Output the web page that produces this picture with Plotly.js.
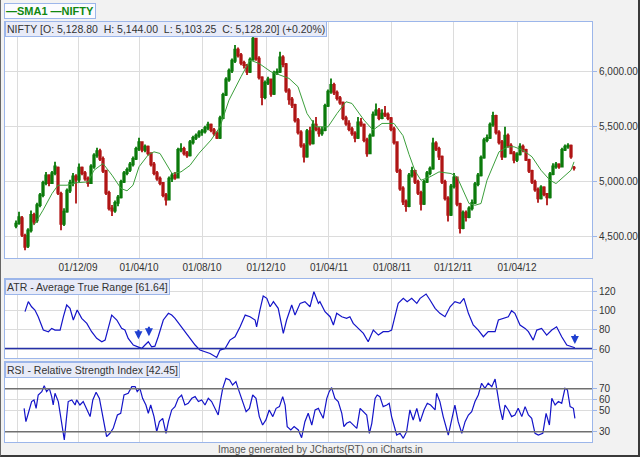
<!DOCTYPE html>
<html><head><meta charset="utf-8">
<script src="https://cdn.plot.ly/plotly-3.0.1.min.js"></script>
<style>
html,body{margin:0;padding:0;background:#f2f2f2;}
#wrap{position:relative;width:640px;height:457px;}
#frame{position:absolute;left:0;top:0;width:640px;height:457px;box-sizing:border-box;border-left:1px solid #666;border-right:2px solid #3a3a3a;border-bottom:2px solid #3a3a3a;pointer-events:none;}
</style></head>
<body><div id="wrap"><div id="chart"></div><div id="frame"></div></div>
<script>
// ---- NIFTY candles (one candle per ~3 sessions) ----
const open = [
4600,4625,4670,4510,4420,4560,4700,4650,4790,4880,
4990,5060,4990,5080,5130,4890,4620,4730,4920,4990,
5050,5020,5130,5080,5030,4990,5140,5240,5280,5210,
5100,4900,4760,4740,4810,4860,5000,5080,5110,5160,
5210,5300,5360,5290,5320,5260,5160,5080,5030,4990,
4880,4840,5030,5060,5040,5290,5300,5260,5240,5360,
5400,5420,5450,5460,5490,5520,5470,5440,5400,5580,
5790,5930,6010,6100,6200,6150,6080,6060,6000,6110,
6300,6120,5950,5770,5900,5930,5800,5990,6000,6130,
6070,5830,5750,5700,5560,5450,5330,5230,5460,5350,
5520,5480,5440,5470,5690,5820,5880,5810,5760,5720,
5580,5530,5480,5440,5400,5540,5520,5380,5260,5420,
5610,5650,5580,5620,5610,5580,5480,5360,5100,4940,
4820,4780,5060,5100,5000,4900,4800,5000,5080,5120,
5350,5300,5230,5000,4850,4700,4960,5040,4800,4580,
4720,4680,4760,4810,4980,5060,5220,5380,5400,5520,
5600,5450,5360,5230,5420,5330,5260,5200,5250,5320,
5290,5200,5100,5000,4930,4850,4950,4890,4860,5070,
5140,5160,5140,5290,5320,5330,5128.8];
const high = [
4650,4728,4690,4530,4580,4740,4720,4810,4900,5010,
5090,5070,5100,5182,5140,4910,4760,4940,5020,5080,
5070,5167,5140,5100,5050,5160,5260,5310,5300,5230,
5110,4920,4790,4830,4880,5020,5100,5130,5180,5230,
5320,5400,5370,5340,5330,5270,5180,5100,5050,5000,
4900,5050,5080,5090,5310,5350,5320,5280,5380,5420,
5440,5470,5480,5510,5546,5530,5490,5460,5600,5810,
5950,6030,6120,6243,6220,6170,6100,6070,6130,6338,
6310,6140,5960,5920,5955,5940,6010,6030,6182,6150,
6080,5850,5770,5710,5580,5470,5350,5480,5500,5560,
5590,5500,5500,5710,5840,5940,5900,5830,5780,5730,
5600,5560,5500,5460,5590,5580,5530,5400,5440,5640,
5712,5670,5660,5690,5630,5590,5500,5370,5120,4960,
4840,5080,5137,5110,5020,4920,5020,5100,5140,5400,
5370,5320,5240,5020,4870,4980,5080,5050,4810,4740,
4740,4780,4840,5000,5080,5240,5400,5430,5540,5637,
5610,5470,5380,5500,5440,5350,5280,5270,5350,5340,
5300,5210,5110,5020,4950,4970,4960,4900,5090,5170,
5180,5170,5310,5340,5350,5340,5144];
const low = [
4580,4610,4500,4380,4400,4540,4610,4630,4770,4860,
4970,4960,4980,5060,4880,4560,4600,4720,4900,4960,
4804,5000,5060,5010,4955,4980,5120,5220,5190,5080,
4880,4740,4690,4720,4780,4850,4990,5060,5090,5140,
5200,5280,5270,5270,5240,5140,5060,5010,4970,4860,
4786,4830,5000,5020,5030,5270,5240,5220,5230,5340,
5380,5400,5420,5440,5470,5450,5420,5390,5390,5570,
5780,5910,5990,6080,6130,6060,6030,5970,5990,6100,
6100,5930,5697,5750,5880,5773,5790,5970,5990,6040,
5810,5700,5670,5540,5430,5310,5177,5220,5330,5340,
5460,5410,5420,5460,5680,5800,5790,5740,5700,5560,
5510,5460,5420,5360,5390,5500,5360,5228,5250,5410,
5600,5560,5570,5590,5560,5460,5340,5080,4920,4790,
4728,4770,5040,4980,4880,4740,4790,4990,5060,5110,
5280,5200,4980,4830,4640,4690,4940,4780,4531,4570,
4640,4670,4740,4800,4960,5050,5210,5360,5390,5500,
5430,5340,5200,5220,5310,5250,5170,5180,5240,5270,
5190,5080,4980,4910,4810,4840,4870,4788,4850,5060,
5120,5120,5130,5280,5300,5210,5103.25];
const close = [
4620,4680,4520,4410,4560,4700,4640,4790,4880,4990,
5060,4990,5080,5140,4900,4620,4730,4920,4990,5050,
5020,5130,5080,5030,4990,5140,5240,5280,5210,5100,
4900,4760,4740,4810,4860,5000,5080,5110,5160,5210,
5300,5360,5290,5320,5260,5160,5080,5030,4990,4880,
4840,5030,5060,5040,5290,5300,5260,5240,5360,5400,
5420,5450,5460,5490,5520,5470,5440,5400,5580,5790,
5930,6010,6100,6200,6150,6080,6060,6000,6110,6300,
6120,5950,5770,5900,5930,5800,5990,6000,6130,6070,
5830,5750,5700,5560,5450,5330,5230,5460,5350,5520,
5480,5440,5470,5690,5820,5880,5810,5760,5720,5580,
5530,5480,5440,5400,5540,5520,5380,5260,5420,5610,
5650,5580,5620,5610,5580,5480,5360,5100,4940,4820,
4780,5060,5100,5000,4900,4800,5000,5080,5120,5350,
5300,5230,5000,4850,4700,4960,5040,4800,4580,4720,
4680,4760,4810,4980,5060,5220,5380,5400,5520,5600,
5450,5360,5230,5420,5330,5260,5200,5250,5320,5290,
5200,5100,5000,4930,4850,4950,4890,4860,5070,5140,
5160,5140,5290,5320,5330,5230,5128.2];

// ---- SMA1 ----
const smaIdx = [6,9,12,14,17,20,24,26,29,32,35,37,39,41,44,46,48,50,52,55,58,61,65,68,71,75,78,81,85,88,91,94,97,100,104,107,110,112,116,119,122,126,129,131,133,135,138,141,145,147,149,151,153,155,157,160,161,164,166,169,172,175,178,180,182,185,186];
const smaVal = [4607,4743,4894,4970,4970,4992,5000,5106,5167,5061,4940,4919,4970,5137,5243,5273,5258,5167,5076,5091,5150,5260,5380,5500,5743,5955,6106,6076,6000,5970,5940,5864,5621,5500,5500,5621,5728,5712,5561,5470,5531,5531,5420,5250,5100,5015,5046,5091,5076,5046,4925,4804,4788,4804,5015,5197,5273,5319,5319,5288,5228,5106,5015,4985,5030,5106,5182];

// ---- ATR ----
const atrIdx = [3,4.1,5.2,6.3,7.4,9.1,10.8,11.9,13,14.7,15.8,16.9,18,19.1,20.4,21.9,23.6,25.2,26.9,28.6,29.7,30.8,31.9,33.6,35.2,36.3,37.4,39.1,40.8,41.9,43,44.1,45.2,46.3,47.4,49.1,50.8,51.9,53,54.7,56.3,58,59.7,61.3,63,64.7,66.9,68,69.7,71.3,73,74.7,76.4,78,79.7,80.2,81.3,82.4,83.6,84.7,85.8,87.4,89.1,90.2,91.9,93,94.7,96.3,98,99.3,100.8,101.3,103,104.7,105.8,106.9,108.6,110.2,111.3,112.4,114.1,115.8,117.4,119.1,120.8,122.4,124.1,125.2,126.3,127.4,129.1,130.4,131.9,133.6,134.7,136.7,138,139.7,141.3,143,144.7,146.3,148,149.3,150.8,152.4,154.1,155.8,157.4,159.7,160.8,162.4,164.1,165.2,166.3,168,169.7,170.8,172.4,173.6,175.2,176.9,178.6,180.2,181.9,183.6,185.2,186.3];
const atrVal = [98.9,109.3,104,100.6,93.7,79.9,78.2,81.6,79.9,79.9,93.7,105.8,102.4,90.3,100.6,92,86.8,78.2,71.3,67.8,69.5,83.3,95.4,90.3,81.6,79.9,71.3,64.4,62,60.9,64.4,67.8,62.6,63.3,73,90.3,97.2,95.4,92,85.1,78.2,71.3,64.4,59.2,57.4,55.7,51.6,59.2,60.9,69.5,73,83.3,95.4,93.7,90.3,83.3,100.6,115.1,112.7,104,109.3,102.4,76.4,90.3,105.8,95.4,107.5,109.3,104,119.6,107.5,109.3,98.9,93.7,85.1,97.2,93.7,92,93.7,86.8,81.6,76.4,67.8,79.9,74.7,78.2,78.2,79.9,93.7,107.5,112.7,109.3,112.7,107.5,112.7,117.2,111,102.4,97.2,93.7,104,109.3,107.5,112.7,97.2,85.1,79.9,73,78.2,78.2,90.3,92,93.7,99.9,97.2,85.1,81.6,78.2,69.5,79.9,81.6,74.7,79.9,83.3,73,64.4,62.6,61.64];

// ---- RSI ----
const rsiIdx = [2.7,3.3,4.1,5.2,6,6.7,7.4,8.6,9.4,10.2,11.1,11.9,12.4,13,14.1,15.2,16.1,16.7,17.4,18.6,19.7,20.2,21.3,22.4,23.6,24.7,25.6,26.7,27.8,28.6,29.3,30.2,31.3,32.4,33.8,34.9,36,37.4,38.6,39.7,40.4,41.3,42.2,43.3,44.1,44.9,46,46.9,47.8,48.9,50,50.8,51.9,53,54.1,55.2,56.3,57.4,58.6,59.7,60.8,61.9,63,64.1,65.2,66.3,67.4,68.2,68.9,70,71.2,72.2,73.3,74.4,75.6,76.7,77.8,78.9,80,81.1,82.2,83.3,84.4,85.6,86.7,87.8,88.9,89.7,90.4,91.6,92.7,94.1,95.2,96.3,97.4,98.6,99.7,100.8,101.3,102.4,103.6,104.4,105.2,106.3,107.4,108.6,109.3,110.2,111.3,112.4,113.6,114.7,115.8,116.9,117.8,118.6,119.7,120.4,121.3,122.4,123.6,124.4,125.2,126,126.9,128,129.1,130.2,131.3,132.4,133.6,134.7,136,137.1,138.2,139.7,140.2,141.3,142.4,144.1,145.2,146.3,147.4,148.6,149.7,150.8,151.9,153,154.1,155.2,156.3,157.4,158.6,159.7,160.4,161.3,162.2,163,164.1,165.2,166.3,167.4,168.6,169.7,170.8,171.9,173,174.1,175.6,176.7,177.8,178.6,179.7,180.8,181.9,183,183.8,184.7,185.8,186.3];
const rsiVal = [51.7,39.3,47.1,58,59.5,51.7,64.1,67.2,72.8,67.2,70.3,62.6,54.8,65.7,58,36.2,22.3,39.3,58,59.5,54.8,59.5,54.8,58,50.2,44,59.5,66.6,61,50.2,37.8,25.4,28.5,33.1,45.5,47.1,64.1,65.7,71.9,71.9,67.2,70.3,61,54.8,47.1,54.8,44,30,39.3,42.4,28.5,39.3,50.2,53.3,61,64.1,54.8,56.4,61,62.6,58,59.5,54.8,61,58,51.7,45.5,59.5,70.3,79.6,78.1,73.4,76.5,67.2,58,48.6,51.7,64.1,61,44,36.2,40.9,50.2,44,51.7,53.3,62.6,54.8,34.7,31.6,34.7,31.6,24.4,39.3,47.1,36.2,50.2,51.7,48.6,42.4,61,67.2,71,61,58,47.1,34.7,37.8,39.3,36.2,33.1,51.7,48.6,45.5,28.5,37.8,61,64.1,62.6,53.3,54.8,56.4,44,34.7,26.9,28.5,23.8,30,50.2,40.9,51.7,39.3,50.2,56.4,54.8,50.2,65.7,58,44,26.9,40.9,54.8,39.3,28.5,39.3,45.5,48.6,58,64.1,75,70.3,75,71.9,79,67.2,51.7,40.9,54.8,50.2,44,45.5,51.7,44,53.3,45.5,42.4,28.5,26.9,28.5,47.1,36.2,61,54.8,58,56.4,70.3,68.8,53.3,51.7,42.45];

// ---- axis ticks / texts ----
const xTickVals = [0.33,20.67,41,62,83.33,104.33,125.33,145.67,167];
const xTickText = ['','01/12/09','01/04/10','01/08/10','01/12/10','01/04/11','01/08/11','01/12/11','01/04/12'];
const priceTicks = [4500,5000,5500,6000];
const atrTicks = [60,80,100,120];
const rsiTicks = [30,50,60,70];
const headerText = 'NIFTY [O: 5,128.80\u00a0\u00a0H: 5,144.00\u00a0\u00a0L: 5,103.25\u00a0\u00a0C: 5,128.20] (+0.20%)';
const atrTitle = 'ATR - Average True Range [61.64]';
const rsiTitle = 'RSI - Relative Strength Index [42.45]';
const legendText = '<b>\u2014SMA1 \u2014NIFTY</b>';
const footerText = 'Image generated by JCharts(RT) on iCharts.in';
const atrLevel = 60.8;
const rsiLevels = [70,30];
const arrows = [{x:40.8,y:70.5},{x:44.3,y:73.5},{x:186.3,y:65.5}];

const BORDER = '#9cb6ea', GRID = '#dcdcdc';
const traces = [
  {type:'candlestick', x:open.map((_,i)=>i), open:open, high:high, low:low, close:close,
   xaxis:'x', yaxis:'y', whiskerwidth:0,
   increasing:{line:{color:'#0b7a0b',width:1.8},fillcolor:'#0b7a0b'},
   decreasing:{line:{color:'#b01515',width:1.8},fillcolor:'#b01515'},
   hoverinfo:'skip', showlegend:false},
  {type:'scatter', mode:'lines', x:smaIdx, y:smaVal, xaxis:'x', yaxis:'y',
   line:{color:'#3c9f3c',width:1}, hoverinfo:'skip', showlegend:false},
  {type:'scatter', mode:'lines', x:atrIdx, y:atrVal, xaxis:'x2', yaxis:'y2',
   line:{color:'#1414c8',width:1.2}, hoverinfo:'skip', showlegend:false},
  {type:'scatter', mode:'lines', x:rsiIdx, y:rsiVal, xaxis:'x3', yaxis:'y3',
   line:{color:'#1414c8',width:1.2}, hoverinfo:'skip', showlegend:false}
];

function xa(anchor, labels){
  return {domain:[0,1], anchor:anchor, range:[-3.67,192], tickvals:xTickVals, ticktext:xTickText,
    showticklabels:labels, showgrid:true, gridcolor:GRID, gridwidth:1, zeroline:false,
    showline:true, linecolor:BORDER, mirror:true, ticks:'', fixedrange:true,
    rangeslider:{visible:false}, tickfont:{size:10,color:'#333'}};
}
function ya(dom, rng, tv, fmt){
  return {domain:dom, side:'right', range:rng, tickvals:tv, tickformat:fmt||'',
    ticks:'outside', ticklen:4, tickcolor:BORDER, showgrid:true, gridcolor:GRID, zeroline:false,
    showline:true, linecolor:BORDER, mirror:true, fixedrange:true, tickfont:{size:10,color:'#333'}};
}

const boxAnn = (txt, y) => ({text:txt, xref:'paper', yref:'paper', x:0, y:y, xanchor:'left', yanchor:'top',
  showarrow:false, bgcolor:'#e8ebf8', bordercolor:BORDER, borderwidth:1, borderpad:1,
  font:{size:10.5,color:'#333'}});

const annotations = [
  boxAnn(headerText, 1.003),
  boxAnn(atrTitle, 0.3881),
  boxAnn(rsiTitle, 0.1905),
  {text:legendText, xref:'paper', yref:'paper', x:-0.002, y:1.0445, xanchor:'left', yanchor:'top',
   showarrow:false, bgcolor:'#fbfbff', bordercolor:BORDER, borderwidth:1, borderpad:1,
   font:{size:11,color:'#118811'}},
  {text:footerText, xref:'paper', yref:'paper', x:0.538, y:-0.019, xanchor:'center', yanchor:'middle',
   showarrow:false, font:{size:10,color:'#555'}}
];
arrows.forEach(a => annotations.push({xref:'x2', yref:'y2', x:a.x, y:a.y, ax:0, ay:-11, text:'',
  showarrow:true, arrowhead:2, arrowsize:0.8, arrowwidth:2, arrowcolor:'#1f3fd0'}));

const shapes = [
  {type:'line', xref:'paper', x0:0, x1:1, yref:'y2', y0:atrLevel, y1:atrLevel, line:{color:'#2530a8',width:1.5}}
].concat(rsiLevels.map(v => ({type:'line', xref:'paper', x0:0, x1:1, yref:'y3', y0:v, y1:v, line:{color:'#707070',width:1.5}})));

const layout = {
  width:640, height:457, margin:{l:5,r:48,t:22,b:15,pad:0},
  paper_bgcolor:'#f2f2f2', plot_bgcolor:'#ffffff', showlegend:false,
  font:{family:'Liberation Sans, Arial, sans-serif', size:10, color:'#333'},
  xaxis:xa('y', true), xaxis2:xa('y2', false), xaxis3:xa('y3', false),
  yaxis:ya([0.4381,1],[4309,6452],priceTicks,',.2f'),
  yaxis2:ya([0.2,0.3881],[51,132.7],atrTicks),
  yaxis3:ya([0,0.1905],[20.4,94.8],rsiTicks),
  annotations:annotations, shapes:shapes
};
Plotly.newPlot('chart', traces, layout, {displayModeBar:false, staticPlot:true});
</script></body></html>
